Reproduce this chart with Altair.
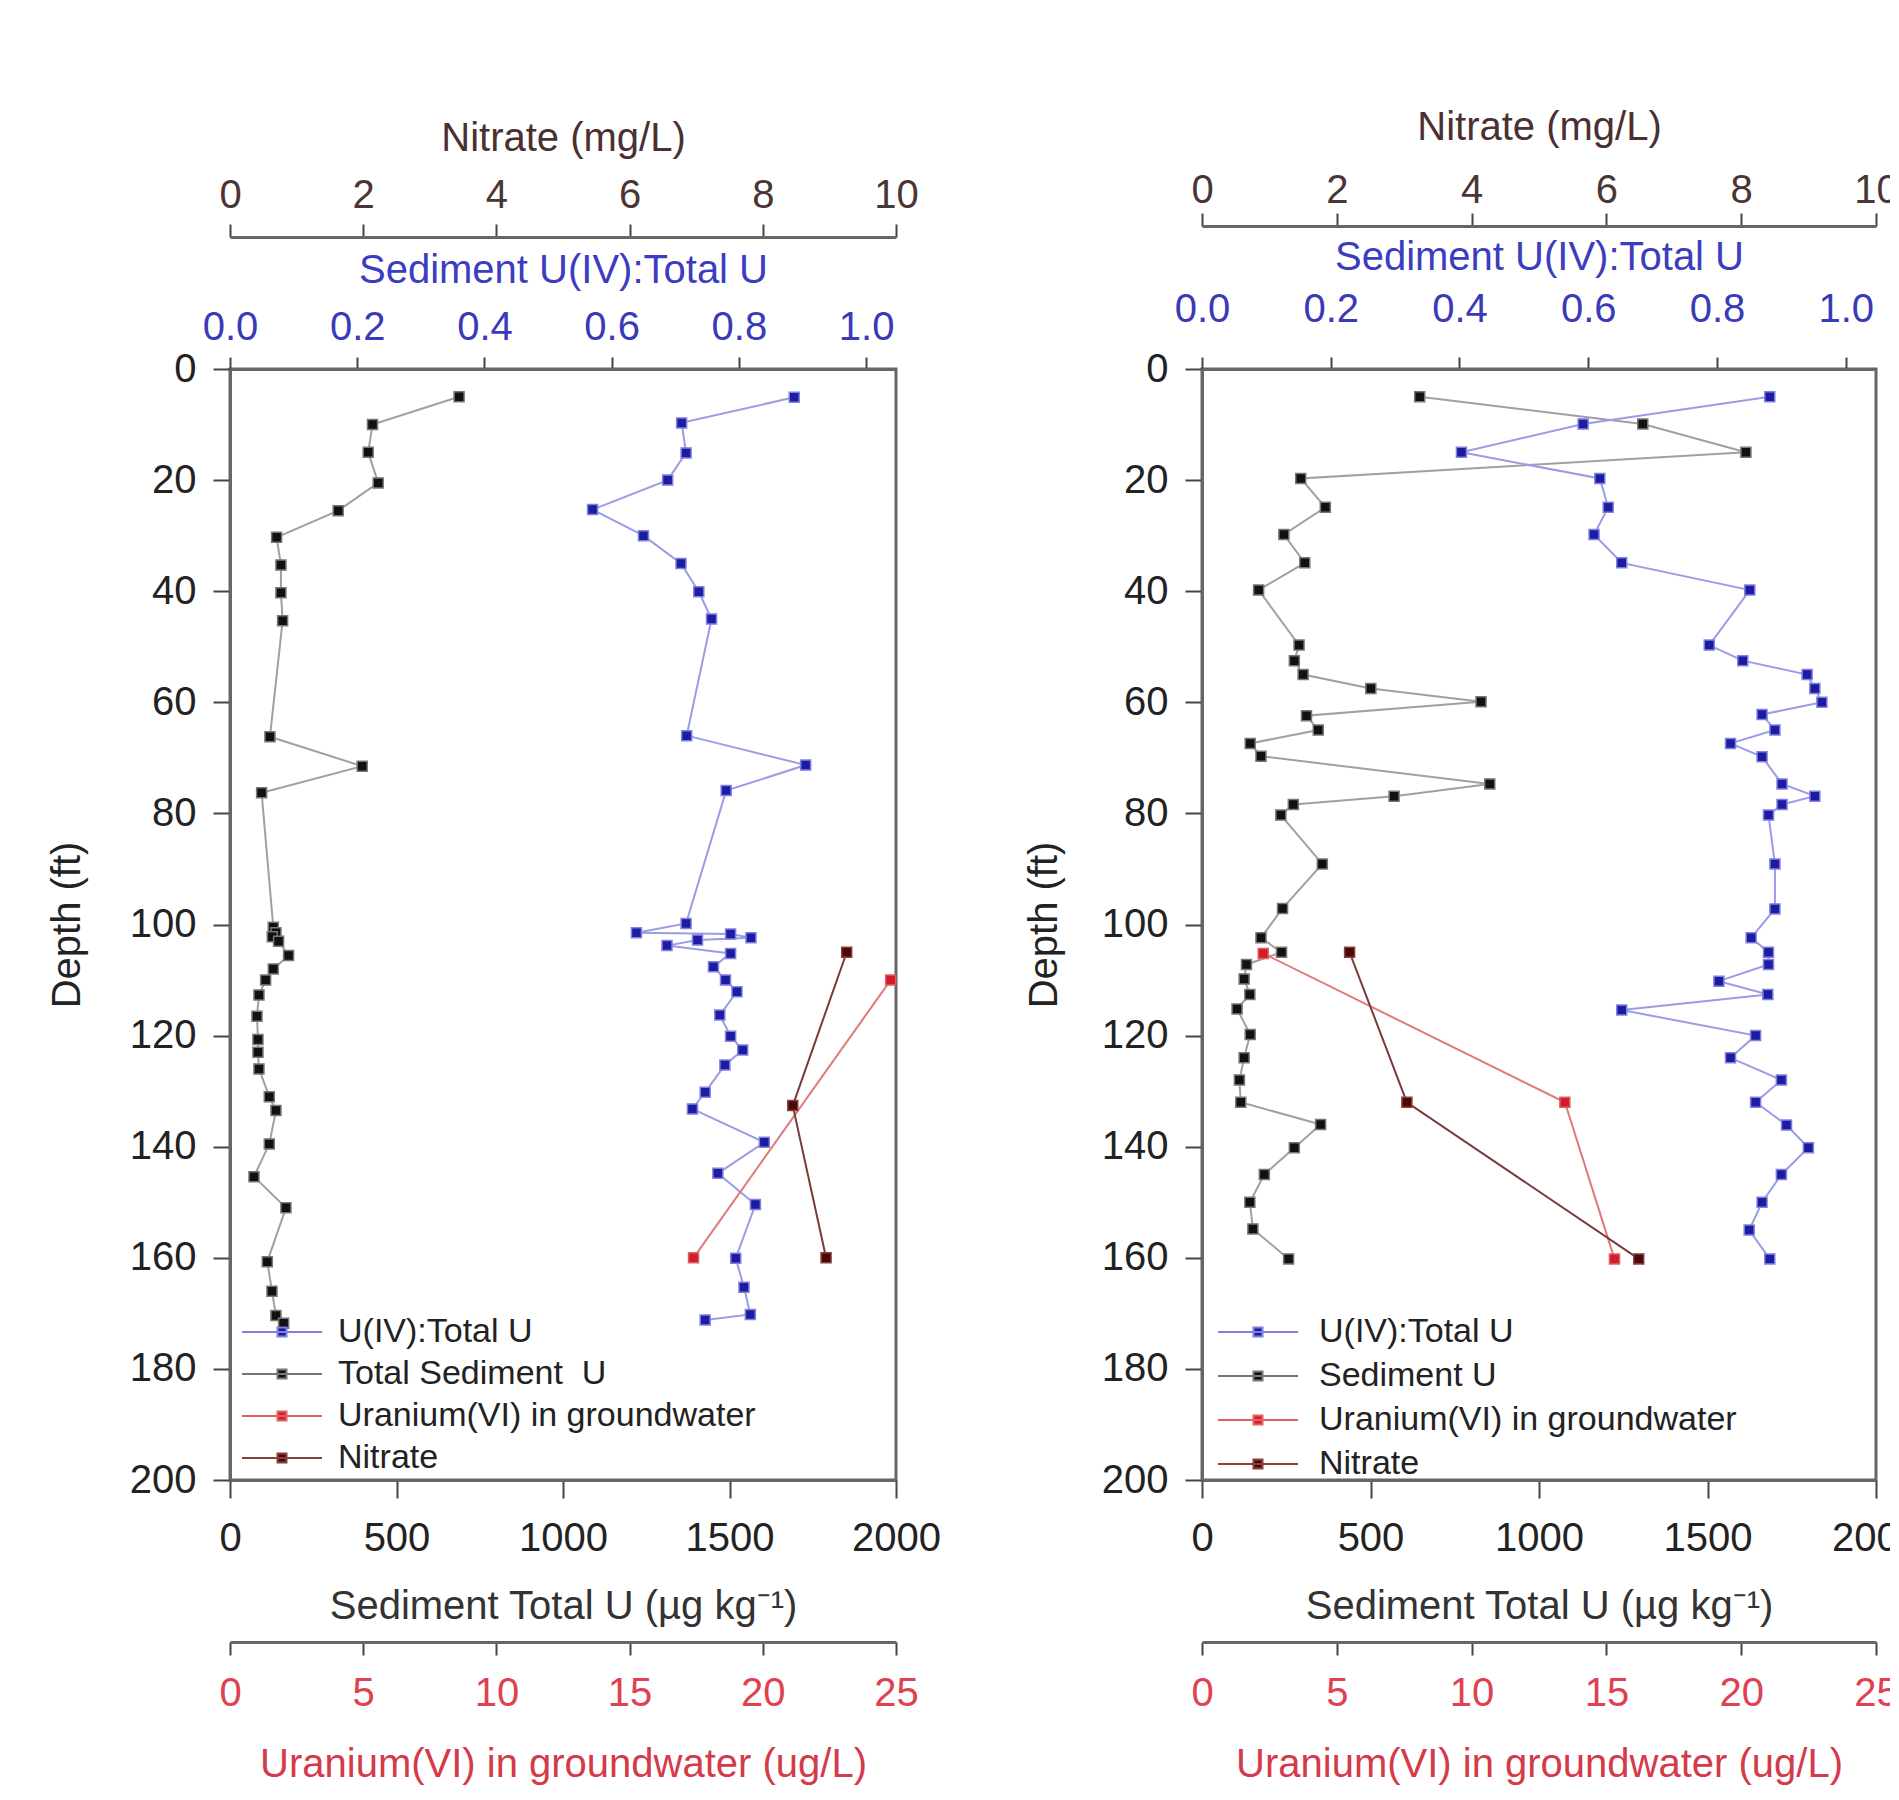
import altair as alt
import pandas as pd

FONT = "Liberation Sans"

# ---------------- LEFT PANEL DATA ----------------
L_sed_depth = [5, 10, 15, 20.5, 25.5, 30.3, 35.3, 40.3, 45.3, 66.2, 71.5, 76.3, 100.5, 101.5, 102.2, 103,
               105.6, 108, 110, 112.7, 116.5, 120.7, 123, 126, 131, 133.5, 139.5, 145.4, 151, 160.7, 166,
               170.4, 171.8]
L_sed_val = [688, 428, 415, 445, 325, 140, 153, 153, 158, 120, 397, 95, 130, 138, 127, 146,
             176, 130, 107, 87, 81, 84, 84, 87, 118, 138, 118, 72, 168, 112, 126,
             138, 161]
L_blue_depth = [5.1, 9.7, 15.1, 20, 25.3, 30, 35, 40.1, 45, 66, 71.3, 75.9, 99.8, 101.5, 101.7, 102.4,
                102.8, 103.8, 105.2, 107.6, 110, 112.1, 116.3, 120.1, 122.6, 125.3, 130.2, 133.2, 139.2,
                144.8, 150.4, 160.1, 165.3, 170.2, 171.2]
L_blue_val = [0.887, 0.710, 0.717, 0.688, 0.570, 0.650, 0.709, 0.737, 0.757, 0.718, 0.905, 0.780, 0.717,
              0.639, 0.787, 0.819, 0.735, 0.687, 0.787, 0.760, 0.779, 0.797, 0.770, 0.787, 0.806, 0.778,
              0.747, 0.727, 0.840, 0.767, 0.826, 0.795, 0.808, 0.818, 0.747]
L_red_depth = [110, 160]
L_red_val = [24.8, 17.4]
L_nit_depth = [105, 132.6, 160]
L_nit_val = [9.26, 8.45, 8.95]
L_labels = ["U(IV):Total U", "Total Sediment\u00a0 U", "Uranium(VI) in groundwater", "Nitrate"]

# ---------------- RIGHT PANEL DATA ----------------
R_sed_depth = [5, 9.9, 15, 19.7, 24.9, 29.8, 34.9, 39.8, 49.7, 52.5, 55, 57.5, 59.9, 62.4, 65, 67.4, 69.7,
               74.7, 76.9, 78.4, 80.3, 89.1, 97.1, 102.4, 105, 107.2, 109.8, 112.6, 115.2, 119.8, 124, 128,
               132, 136, 140.2, 145, 150, 154.8, 160.2]
R_sed_val = [646, 1308, 1614, 293, 366, 243, 305, 168, 288, 274, 300, 501, 828, 310, 345, 143, 175,
             854, 570, 271, 234, 357, 239, 175, 236, 132, 125, 142, 104, 143, 125, 111,
             115, 352, 274, 185, 142, 151, 257]
R_blue_depth = [5, 9.9, 15, 19.7, 24.9, 29.8, 34.9, 39.8, 49.7, 52.5, 55, 57.5, 60, 62.2, 65, 67.4, 69.8,
                74.7, 76.9, 78.4, 80.3, 89.1, 97.2, 102.4, 105, 107.2, 110.2, 112.6, 115.4, 120, 124, 128,
                132, 136.1, 140.2, 145, 150, 155, 160.2]
R_blue_val = [0.882, 0.592, 0.403, 0.618, 0.631, 0.609, 0.652, 0.851, 0.788, 0.840, 0.940, 0.952, 0.963,
              0.870, 0.890, 0.821, 0.870, 0.901, 0.952, 0.901, 0.880, 0.890, 0.890, 0.853, 0.880, 0.880,
              0.803, 0.879, 0.652, 0.860, 0.821, 0.900, 0.860, 0.908, 0.942, 0.900, 0.870, 0.850, 0.882]
R_red_depth = [105.2, 132, 160.2]
R_red_val = [2.27, 13.46, 15.3]
R_nit_depth = [105, 132, 160.2]
R_nit_val = [2.19, 3.04, 6.48]
R_labels = ["U(IV):Total U", "Sediment U", "Uranium(VI) in groundwater", "Nitrate"]

# tick values
depth_ticks = [0, 20, 40, 60, 80, 100, 120, 140, 160, 180, 200]
sed_ticks = [0, 500, 1000, 1500, 2000]
blue_ticks = [0.0, 0.2, 0.4, 0.6, 0.8, 1.0]
red_ticks = [0, 5, 10, 15, 20, 25]
nit_ticks = [0, 2, 4, 6, 8, 10]

FILLS = ["#1c1ca0", "#111111", "#d01c2c", "#4a0808"]
STROKES = ["#8080e0", "#777777", "#e06060", "#8a4040"]
LINES = ["#9c9ce6", "#a0a0a0", "#e07a7a", "#7a3a3a"]

SYMBOL = "M-4,0H4M-0.45,-0.45H0.45V0.45H-0.45Z"


def make_panel(sed, blue, red, nit, labels, P):
    yax = alt.Axis(title="Depth (ft)", values=depth_ticks, tickSize=17, labelPadding=17,
                   titlePadding=P["ytp"], labelColor="#222", titleColor="#222")
    Y = alt.Y("depth:Q", scale=alt.Scale(domain=[0, 200], reverse=True, nice=False, zero=False), axis=yax)
    fill_scale = alt.Scale(domain=labels, range=FILLS)
    stroke_scale = alt.Scale(domain=labels, range=STROKES)
    leg = alt.Legend(title=None, orient="none", legendX=P["lx"], legendY=P["ly"], symbolType=SYMBOL,
                     symbolSize=400, symbolStrokeWidth=2, labelOffset=P["lo"], labelFontSize=34,
                     labelColor="#222", labelFont=FONT, rowPadding=P["rp"], padding=0, symbolOffset=0,
                     labelLimit=600)

    sed_ax = alt.Axis(orient="bottom", offset=0, values=sed_ticks, format="d",
                      title="Sediment Total U (µg kg⁻¹)", tickSize=18, labelPadding=20, titlePadding=28,
                      labelColor="#222", titleColor="#333")
    blue_ax = alt.Axis(orient="top", offset=0, values=blue_ticks, format=".1f",
                       title="Sediment U(IV):Total U", tickSize=12, labelPadding=P["blp"],
                       titlePadding=P["btp"], labelColor="#3a3ab8", titleColor="#3c3cc0")
    red_ax = alt.Axis(orient="bottom", offset=162, values=red_ticks, format="d",
                      title="Uranium(VI) in groundwater (ug/L)", tickSize=13, labelPadding=18,
                      titlePadding=31, labelColor="#e04050", titleColor="#d43a4a")
    nit_ax = alt.Axis(orient="top", offset=P["noff"], values=nit_ticks, format="d",
                      title="Nitrate (mg/L)", tickSize=13, labelPadding=P["nlp"], titlePadding=P["ntp"],
                      labelColor="#4a3535", titleColor="#4a3030")

    specs = [
        (sed, labels[1], sed_ax, [0, 2000], LINES[1]),
        (blue, labels[0], blue_ax, [0, 1.047], LINES[0]),
        (red, labels[2], red_ax, [0, 25], LINES[2]),
        (nit, labels[3], nit_ax, [0, 10], LINES[3]),
    ]
    line_layers = []
    pt_layers = []
    for (d, v), name, ax, dom, lc in specs:
        df = pd.DataFrame({"depth": d, "value": v, "series": name})
        xs = alt.Scale(domain=dom, nice=False, zero=False)
        line_layers.append(
            alt.Chart(df).mark_line(color=lc, strokeWidth=2).encode(
                x=alt.X("value:Q", scale=xs, axis=None), y=Y, order="depth:Q")
        )
        pt_layers.append(
            alt.Chart(df).mark_square(size=100, strokeWidth=1.5, opacity=1).encode(
                x=alt.X("value:Q", scale=xs, axis=ax), y=Y,
                fill=alt.Fill("series:N", scale=fill_scale, legend=leg),
                stroke=alt.Stroke("series:N", scale=stroke_scale, legend=leg))
        )
    return alt.layer(*(line_layers + pt_layers)).resolve_scale(
        x="independent", y="shared", fill="shared", stroke="shared"
    ).properties(width=P["w"], height=P["h"])


left = make_panel((L_sed_depth, L_sed_val), (L_blue_depth, L_blue_val), (L_red_depth, L_red_val),
                  (L_nit_depth, L_nit_val), L_labels,
                  dict(w=666, h=1111, ytp=42, lx=35, ly=946, lo=39, rp=8, noff=132, nlp=9, ntp=17,
                       blp=9.5, btp=17))
right = make_panel((R_sed_depth, R_sed_val), (R_blue_depth, R_blue_val), (R_red_depth, R_red_val),
                   (R_nit_depth, R_nit_val), R_labels,
                   dict(w=674, h=1111, ytp=37, lx=39, ly=946, lo=44, rp=10, noff=143, nlp=3, ntp=23,
                        blp=28, btp=12))

chart = alt.hconcat(left, right, spacing=80).resolve_scale(
    x="independent", y="independent", fill="independent", stroke="independent"
).properties(
    padding={"left": 37, "top": 97, "right": -32, "bottom": 2},
    background="white",
).configure(font=FONT).configure_view(
    stroke="#666666", strokeWidth=3
).configure_axis(
    labelFont=FONT, titleFont=FONT, labelFontSize=40, titleFontSize=40, titleFontWeight="normal",
    grid=False, domainColor="#666666", domainWidth=3, tickColor="#444444", tickWidth=2,
    labelFlush=False, labelOverlap=False,
)

chart.save("out.html", embed_options={"renderer": "svg", "actions": False})
